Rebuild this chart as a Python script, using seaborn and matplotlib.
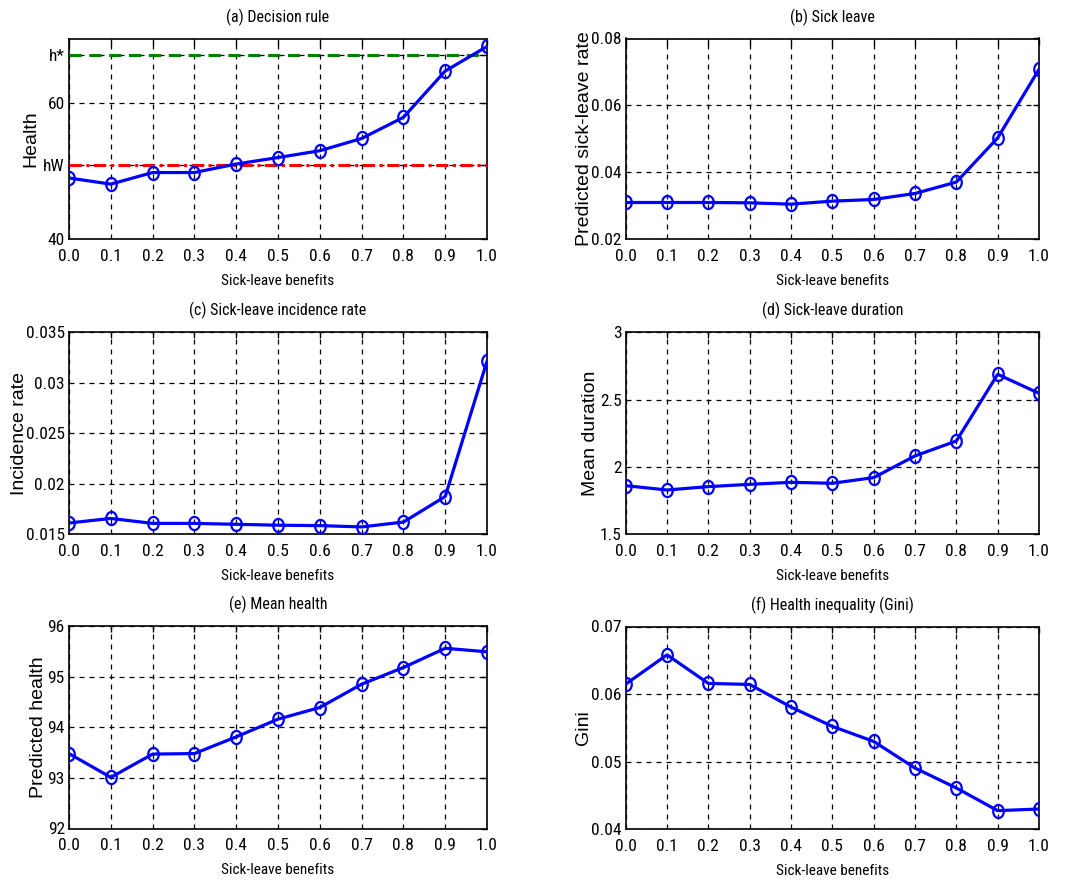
import numpy as np
import pandas as pd
import matplotlib
matplotlib.use("Agg")
import matplotlib.pyplot as plt
from matplotlib import font_manager as fm
from matplotlib.path import Path
from matplotlib.transforms import Affine2D
import seaborn as sns

# ---------------- data ----------------
benefits = [0.0, 0.1, 0.2, 0.3, 0.4, 0.5, 0.6, 0.7, 0.8, 0.9, 1.0]
tick_labels = ["0.0", "0.1", "0.2", "0.3", "0.4", "0.5", "0.6", "0.7", "0.8", "0.9", "1.0"]

decision_rule = [49.0, 48.1, 49.8, 49.8, 51.05, 52.0, 53.0, 54.8, 57.9, 64.7, 68.3]
h_star = 67.0
h_w = 50.9

sick_leave_rate = [0.0310, 0.0310, 0.0310, 0.0309, 0.0305, 0.0314, 0.0319, 0.0337, 0.0371, 0.0503, 0.0708]
incidence_rate = [0.01612, 0.01657, 0.01608, 0.01608, 0.01599, 0.01590, 0.01586, 0.01573, 0.01621, 0.01874, 0.03214]
mean_duration = [1.861, 1.829, 1.854, 1.871, 1.886, 1.879, 1.921, 2.082, 2.193, 2.688, 2.547]
mean_health = [93.48, 93.01, 93.47, 93.48, 93.81, 94.16, 94.39, 94.85, 95.18, 95.56, 95.49]
gini = [0.06148, 0.06581, 0.06158, 0.06143, 0.05808, 0.05522, 0.05300, 0.04906, 0.04611, 0.04276, 0.04300]

titles = ["(a) Decision rule", "(b) Sick leave", "(c) Sick-leave incidence rate",
          "(d) Sick-leave duration", "(e) Mean health", "(f) Health inequality (Gini)"]
ylabels = ["Health", "Predicted sick-leave rate", "Incidence rate",
           "Mean duration", "Predicted health", "Gini"]
xlabel = "Sick-leave benefits"

sns.set_style("white")

# pick a narrow face if one is available, otherwise shrink a regular one
available = {f.name for f in fm.fontManager.ttflist}
narrow_family, tick_size, title_size = "Liberation Sans", 10.5, 10.0
for cand, ts, tt in [("Liberation Sans Narrow", 13, 12), ("Arial Narrow", 13, 12),
                     ("Roboto Condensed", 12.5, 11.5), ("Open Sans Condensed", 12, 11),
                     ("DejaVu Sans Condensed", 11, 10.5)]:
    if cand in available:
        narrow_family, tick_size, title_size = cand, ts, tt
        break
plt.rcParams["font.family"] = [narrow_family, "DejaVu Sans"]

fig = plt.figure(figsize=(10.65, 8.86), dpi=100)

W, H = 1065.0, 886.0
boxes = [
    (69, 487, 39, 239.3), (625.7, 1039, 38.5, 239.3),
    (69, 487, 332.3, 534.3), (625.7, 1039, 332.3, 534.3),
    (69, 487, 626, 828.5), (625.7, 1039, 626.5, 829.3),
]
label_x = [-0.072, -0.080, -0.099, -0.064, -0.053, -0.081]

series = [decision_rule, sick_leave_rate, incidence_rate, mean_duration, mean_health, gini]
ylims = [(40, 69.4), (0.02, 0.08), (0.015, 0.035), (1.5, 3.0), (92, 96), (0.04, 0.07)]
yticks = [
    ([40, h_w, 60, h_star], ["40", "hW", "60", "h*"]),
    ([0.02, 0.04, 0.06, 0.08], ["0.02", "0.04", "0.06", "0.08"]),
    ([0.015, 0.02, 0.025, 0.03, 0.035], ["0.015", "0.02", "0.025", "0.03", "0.035"]),
    ([1.5, 2.0, 2.5, 3.0], ["1.5", "2", "2.5", "3"]),
    ([92, 93, 94, 95, 96], ["92", "93", "94", "95", "96"]),
    ([0.04, 0.05, 0.06, 0.07], ["0.04", "0.05", "0.06", "0.07"]),
]

ellipse = Path.unit_circle().transformed(Affine2D().scale(0.8, 1.0))

for i, (l, r, t, b) in enumerate(boxes):
    ax = fig.add_axes([l / W, 1 - b / H, (r - l) / W, (b - t) / H])
    df = pd.DataFrame({"x": benefits, "y": series[i]})
    sns.lineplot(data=df, x="x", y="y", ax=ax, color=(0, 0, 1), linewidth=2.3,
                 marker=ellipse, markersize=9.5, markerfacecolor="none",
                 markeredgecolor=(0, 0, 1), markeredgewidth=1.6, zorder=5)
    if i == 0:
        ax.axhline(h_star, color=(0, 0.5, 0), linestyle=(0, (4, 2.5)), linewidth=2.2, zorder=4)
        ax.axhline(h_w, color=(1, 0, 0), linestyle=(0, (4, 1.5, 1, 1.5)), linewidth=2.2, zorder=4)
    ax.set_xlim(0, 1)
    ax.set_ylim(*ylims[i])
    ax.set_xticks(benefits)
    ax.set_xticklabels(tick_labels)
    ax.set_yticks(yticks[i][0])
    ax.set_yticklabels(yticks[i][1])
    ax.grid(True, color="black", linestyle=(0, (4, 4)), linewidth=0.9)
    ax.set_axisbelow(True)
    for s in ax.spines.values():
        s.set_visible(True)
        s.set_color("black")
        s.set_linewidth(1.2)
    ax.tick_params(axis="both", direction="in", length=4, width=1, colors="black",
                   labelsize=tick_size, top=True, right=True)
    ax.tick_params(axis="x", pad=7)
    ax.tick_params(axis="y", pad=3)
    ax.set_title(titles[i], fontsize=title_size, pad=12, color="black")
    ax.set_xlabel(xlabel, fontsize=title_size - 0.5, labelpad=7, color="black")
    ax.set_ylabel(ylabels[i], fontsize=14, color="black",
                  fontfamily=["Liberation Sans", "DejaVu Sans"])
    ax.yaxis.set_label_coords(label_x[i], 0.5)

fig.savefig("out.png", dpi=100, facecolor="white")
